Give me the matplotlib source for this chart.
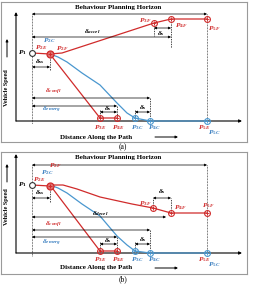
import matplotlib
matplotlib.use("Agg")
import matplotlib.pyplot as plt

plt.rcParams['font.family'] = ['Liberation Serif', 'DejaVu Serif']
plt.rcParams['mathtext.fontset'] = 'custom'
plt.rcParams['mathtext.it'] = 'Liberation Serif:bold:italic'
plt.rcParams['mathtext.rm'] = 'Liberation Serif:bold'
plt.rcParams['mathtext.bf'] = 'Liberation Serif:bold'

RED = '#d02b2b'
BLUE = '#4a97cf'
BLUE_TXT = '#3a7fc0'

# ------------------------------------------------------------
# dati (distanza, velocita')
# ------------------------------------------------------------
p1 = (0, 68)
p2 = (18, 67)

# (a) accelerazione
a_f_d = [18, 30, 122, 139, 175]
a_f_v = [67, 68, 98, 102, 102]
a_e_d = [18, 21, 68, 85]
a_e_v = [67, 63, 3, 3]
a_c_d = [18, 26, 35, 50, 68, 85, 95, 103, 118, 175]
a_c_v = [67, 64, 59, 48, 36, 18, 8, 3, 0, 0]

# (b) decelerazione
b_f_d = [18, 31, 45, 68, 100, 121, 139, 175]
b_f_v = [68, 68, 64, 56, 49, 45, 40, 40]
b_e_d = [18, 21, 68, 85]
b_e_v = [68, 64, 2, 2]
b_c_d = [18, 26, 35, 50, 68, 85, 95, 103, 118, 175]
b_c_v = [68, 65, 60, 49, 37, 17, 8, 2, 0, 0]

horizon_end = 175
d_ss = 18
d_confl = 118
d_emerg = 85
a_d_accel = 139
b_d_decel = 134


def dim(ax, x0, x1, y):
    ax.annotate('', xy=(x1, y), xytext=(x0, y),
                arrowprops=dict(arrowstyle='<|-|>', color='k', lw=0.5,
                                mutation_scale=3.5, shrinkA=0, shrinkB=0))


def vline(ax, x, y0, y1, dotted=False):
    ls = (0, (1, 1.2)) if dotted else (0, (2, 1.5))
    ax.plot([x, x], [y0, y1], ls=ls, lw=0.5, color='k', zorder=1)


def point(ax, x, y, c):
    ax.plot(x, y, 'o', ms=4.2, mfc='none', mec=c, mew=0.8, zorder=5)
    ax.plot(x, y, '+', ms=2.8, mec=c, mew=0.6, zorder=5)


def lab(ax, x, y, s, c, fs=5.3, **kw):
    ax.text(x, y, s, color=c, fontsize=fs, ha='center', va='center', **kw)


def panel(ax, top, f_d, f_v, e_d, e_v, c_d, c_v, mode):
    ax.set_xlim(-31, 215)
    ax.set_ylim(-21, top)
    ax.set_xticks([])
    ax.set_yticks([])
    for s in ax.spines.values():
        s.set_color('#9a9a9a')
        s.set_linewidth(0.8)

    # assi
    ytop = top - 10 if mode == 'a' else top - 2
    ax.annotate('', xy=(-16, ytop), xytext=(-16, 0),
                arrowprops=dict(arrowstyle='-|>', color='k', lw=0.8,
                                mutation_scale=4, shrinkA=0, shrinkB=0))
    ax.annotate('', xy=(210, 0), xytext=(-16, 0),
                arrowprops=dict(arrowstyle='-|>', color='k', lw=0.8,
                                mutation_scale=4, shrinkA=0, shrinkB=0))
    ax.text(-25, 33 if mode == 'a' else 46, 'Vehicle Speed', rotation=90,
            fontsize=4.5, fontweight='bold', ha='center', va='center')
    yv = 64 if mode == 'a' else 71
    ax.annotate('', xy=(-25, yv + 18), xytext=(-25, yv),
                arrowprops=dict(arrowstyle='-|>', color='k', lw=0.7,
                                mutation_scale=3.5, shrinkA=0, shrinkB=0))
    yd = -16 if mode == 'a' else -15
    ax.text(64, yd, 'Distance Along the Path', fontsize=5, fontweight='bold',
            ha='center', va='center')
    ax.annotate('', xy=(146, yd), xytext=(123, yd),
                arrowprops=dict(arrowstyle='-|>', color='k', lw=0.7,
                                mutation_scale=3.5, shrinkA=0, shrinkB=0))

    # orizzonte
    yh = 107 if mode == 'a' else 88
    ax.text(86, yh + 7, 'Behaviour Planning Horizon', fontsize=5,
            fontweight='bold', ha='center', va='center')
    dim(ax, 0, horizon_end, yh)
    vline(ax, 0, yh, -3, dotted=True)
    vline(ax, horizon_end, yh, 0, dotted=True)

    # curve
    ax.plot(c_d, c_v, color=BLUE, lw=0.9, zorder=3)
    ax.plot(f_d, f_v, color=RED, lw=0.9, zorder=3)
    ax.plot(e_d, e_v, color=RED, lw=0.9, zorder=3)
    ax.plot([p1[0], p2[0]], [p1[1], p2[1]], color=RED, lw=0.9, zorder=3)

    ax.plot(*p1, 'o', ms=4.2, mfc='white', mec='#333333', mew=0.8, zorder=5)
    ax.plot(*p2, 'o', ms=5, mfc='#e07070', mec=RED, mew=0.9, zorder=5)
    ax.plot(*p2, '+', ms=3.5, mec=RED, mew=0.7, zorder=6)
    for k in (-2, -1):
        point(ax, f_d[k], f_v[k], RED)
    point(ax, f_d[-3], f_v[-3], RED)
    point(ax, e_d[-2], e_v[-2], RED)
    point(ax, e_d[-1], e_v[-1], RED)
    point(ax, c_d[-3], c_v[-3], BLUE)
    point(ax, c_d[-2], c_v[-2], BLUE)
    point(ax, c_d[-1], c_v[-1], BLUE)

    # etichette punti
    lab(ax, -10, p1[1], '$P_1$', 'k')
    if mode == 'a':
        lab(ax, 17, 80, '$P_{2C}$', BLUE_TXT)
        lab(ax, 9, 73, '$P_{2E}$', RED)
        lab(ax, 30, 72, '$P_{2F}$', RED)
        lab(ax, 113, 100, '$P_{3F}$', RED)
        lab(ax, 149, 95, '$P_{4F}$', RED)
        lab(ax, 182, 92, '$P_{5F}$', RED)
    else:
        lab(ax, 23, 87, '$P_{2F}$', RED)
        lab(ax, 15, 80.5, '$P_{2C}$', BLUE_TXT)
        lab(ax, 7, 73, '$P_{2E}$', RED)
        lab(ax, 113, 49, '$P_{3F}$', RED)
        lab(ax, 148, 45, '$P_{4F}$', RED)
        lab(ax, 176, 47, '$P_{5F}$', RED)
    lab(ax, 68, -7, '$P_{3E}$', RED)
    lab(ax, 86, -7, '$P_{4E}$', RED)
    lab(ax, 105, -7, '$P_{3C}$', BLUE_TXT)
    lab(ax, 122, -7, '$P_{4C}$', BLUE_TXT)
    lab(ax, 172, -7, '$P_{5E}$', RED)
    lab(ax, 182, -12, '$P_{5C}$', BLUE_TXT)

    # quote
    y_ss = 54 if mode == 'a' else 55
    dim(ax, 0, d_ss, y_ss)
    vline(ax, d_ss, p2[1], y_ss - 4)
    lab(ax, 8, y_ss + 5, r'$\delta_{ss}$', 'k')

    if mode == 'a':
        y_s = 93
        dim(ax, f_d[-3], f_d[-2], y_s)
        vline(ax, f_d[-3], f_v[-3], 85)
        vline(ax, f_d[-2], f_v[-2], 73)
        lab(ax, 129, 87, r'$\delta_s$', 'k')
        dim(ax, 0, a_d_accel, 84)
        lab(ax, 60, 89, r'$\delta_{accel}$', 'k')
    else:
        y_s = 55
        dim(ax, f_d[-3], f_d[-2], y_s)
        vline(ax, f_d[-3], f_v[-3], y_s)
        vline(ax, f_d[-2], f_v[-2], y_s)
        lab(ax, 130, 61, r'$\delta_s$', 'k')
        dim(ax, 0, b_d_decel, 36)
        lab(ax, 68, 39, r'$\delta_{decel}$', 'k')

    y_cf = 23
    y_em = 15 if mode == 'a' else 16
    dim(ax, 0, d_confl, y_cf)
    vline(ax, d_confl, y_cf, 0)
    lab(ax, 21, y_cf + 6 if mode == 'a' else y_cf + 5, r'$\delta_{confl}$', RED)
    dim(ax, 0, d_emerg, y_em)
    vline(ax, d_emerg, y_em, e_v[-1])
    lab(ax, 19, y_em - 4 if mode == 'a' else y_em - 6, r'$\delta_{emerg}$', BLUE_TXT)

    dim(ax, e_d[-2], e_d[-1], 9)
    vline(ax, e_d[-2], 11, e_v[-2])
    lab(ax, 76, 12, r'$\delta_s$', 'k')
    dim(ax, c_d[-3], c_d[-2], 9)
    vline(ax, c_d[-3], 11, c_v[-3])
    lab(ax, 111, 13, r'$\delta_s$', 'k')


fig = plt.figure(figsize=(2.6, 2.84), dpi=100)
ax_a = fig.add_axes([1 / 260, (284 - 142) / 284, 246 / 260, 140 / 284])
ax_b = fig.add_axes([1 / 260, (284 - 274) / 284, 246 / 260, 122 / 284])

panel(ax_a, 119, a_f_d, a_f_v, a_e_d, a_e_v, a_c_d, a_c_v, 'a')
panel(ax_b, 101, b_f_d, b_f_v, b_e_d, b_e_v, b_c_d, b_c_v, 'b')

fig.text(123 / 260, 1 - 147 / 284, '(a)', fontsize=5.5, ha='center', va='center')
fig.text(123 / 260, 1 - 279 / 284, '(b)', fontsize=5.5, ha='center', va='center')

fig.savefig('out.png', dpi=100)
